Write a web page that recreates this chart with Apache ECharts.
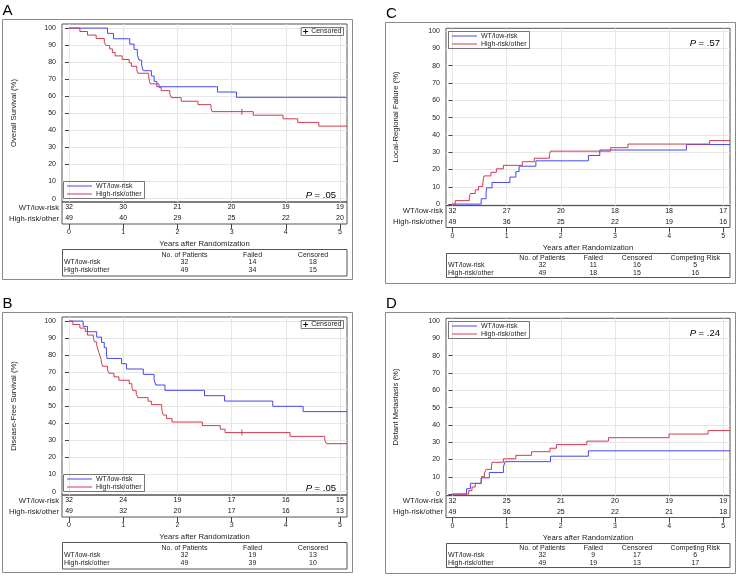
<!DOCTYPE html>
<html>
<head>
<meta charset="utf-8">
<title>Survival panels</title>
<script src="https://cdn.jsdelivr.net/npm/echarts@6.0.0/dist/echarts.min.js"></script>
<style>
  html, body { margin: 0; padding: 0; background: #fff; }
  .panel { position: absolute; width: 369px; }
</style>
</head>
<body>
<div id="panel-a" class="panel" style="left:0;top:0;height:293px"></div>
<div id="panel-b" class="panel" style="left:0;top:293px;height:283px"></div>
<div id="panel-c" class="panel" style="left:369px;top:0;height:290px"></div>
<div id="panel-d" class="panel" style="left:369px;top:290px;height:286px"></div>
<script>
const years = [0, 1, 2, 3, 4, 5];
const yTicks = [0, 10, 20, 30, 40, 50, 60, 70, 80, 90, 100];
const groups = ['WT/low-risk', 'High-risk/other'];
const survHeader = ['No. of Patients', 'Failed', 'Censored'];
const crHeader = ['No. of Patients', 'Failed', 'Censored', 'Competing Risk'];

// A - overall survival, [years, %]
const osWT = [[0,100],[0.71,96.9],[0.82,93.75],[1.12,90.6],[1.2,87.5],[1.26,84.4],[1.29,81.25],[1.34,78.1],[1.37,75],[1.52,71.9],[1.57,68.75],[1.62,65.6],[2.74,62.5],[3.09,59.4],[5.13,59.4]];
const osHR = [[0,100],[0.2,98],[0.34,95.9],[0.5,93.9],[0.65,91.8],[0.68,89.8],[0.75,87.8],[0.8,85.7],[0.85,83.7],[0.98,81.6],[1.11,79.6],[1.15,77.6],[1.25,75.5],[1.27,73.5],[1.47,71.4],[1.48,69.4],[1.5,67.3],[1.66,65.3],[1.7,63.3],[1.86,61.2],[1.89,59.2],[2.07,57.1],[2.38,55.1],[2.62,53.0],[2.64,51.0],[3.4,48.9],[3.95,46.8],[4.22,44.7],[4.61,42.5],[5.13,42.5]];
const osCensor = [[3.19, 51.0]];
const osRiskWT = [32, 30, 21, 20, 19, 19];
const osRiskHR = [49, 40, 29, 25, 22, 20];
const osTable = [[32, 14, 18], [49, 34, 15]];

// B - disease-free survival
const dfsWT = [[0,100],[0.26,96.9],[0.34,93.75],[0.51,90.6],[0.6,87.5],[0.65,84.4],[0.69,81.25],[0.7,78.1],[0.97,75],[1.06,71.9],[1.37,68.75],[1.57,65.6],[1.6,62.5],[1.77,59.4],[2.5,56.25],[2.87,53.1],[3.76,50],[4.32,46.9],[5.13,46.9]];
const dfsHR = [[0,100],[0.07,98],[0.2,95.9],[0.3,93.9],[0.34,91.8],[0.45,89.8],[0.47,87.8],[0.51,85.7],[0.53,83.7],[0.55,81.6],[0.57,79.6],[0.59,77.6],[0.6,75.5],[0.62,73.5],[0.71,71.4],[0.74,69.4],[0.83,67.3],[0.92,65.3],[1.11,63.3],[1.16,61.2],[1.18,59.2],[1.24,57.1],[1.27,55.1],[1.46,53],[1.52,51],[1.71,49],[1.72,46.9],[1.74,44.9],[1.8,42.8],[1.9,40.8],[2.46,38.7],[2.79,36.6],[2.88,34.6],[4.08,32.4],[4.72,30.2],[4.75,28.1],[5.13,28.1]];
const dfsCensor = [[3.19, 34.6]];
const dfsRiskWT = [32, 24, 19, 17, 16, 15];
const dfsRiskHR = [49, 32, 20, 17, 16, 13];
const dfsTable = [[32, 19, 13], [49, 39, 10]];

// C - local-regional failure (cumulative incidence)
const lrfWT = [[0,0],[0.53,3.1],[0.62,6.25],[0.63,9.4],[0.73,12.5],[1.06,15.6],[1.17,18.75],[1.23,21.9],[1.54,25],[2.51,28.1],[2.72,31.25],[4.32,34.4],[5.125,34.4]];
const lrfHR = [[0,0],[0.05,2],[0.31,4.1],[0.33,6.1],[0.42,8.2],[0.48,10.2],[0.56,12.2],[0.57,14.3],[0.58,16.3],[0.71,18.4],[0.81,20.4],[0.94,22.4],[1.29,24.5],[1.51,26.5],[1.79,28.6],[1.81,30.6],[2.92,32.6],[3.24,34.7],[4.75,36.7],[5.125,36.7]];
const lrfRiskWT = [32, 27, 20, 18, 18, 17];
const lrfRiskHR = [49, 36, 25, 22, 19, 16];
const lrfTable = [[32, 11, 16, 5], [49, 18, 15, 16]];

// D - distant metastasis (cumulative incidence)
const dmWT = [[0,0],[0.26,3.1],[0.33,6.25],[0.53,9.4],[0.68,12.5],[0.94,15.6],[0.97,18.75],[1.81,21.9],[2.51,25],[5.125,25]];
const dmHR = [[0,0],[0.3,2],[0.36,4.1],[0.42,6.1],[0.53,8.2],[0.54,10.2],[0.59,12.2],[0.62,14.3],[0.72,16.3],[0.73,18.4],[0.94,20.4],[1.17,22.4],[1.46,24.5],[1.8,26.5],[1.92,28.6],[2.48,30.6],[2.88,32.6],[4.0,34.7],[4.72,36.7],[5.125,36.7]];
const dmRiskWT = [32, 25, 21, 20, 19, 19];
const dmRiskHR = [49, 36, 25, 22, 21, 18];
const dmTable = [[32, 9, 17, 6], [49, 19, 13, 17]];

const font = '"Liberation Sans", Arial, sans-serif';
const blue = '#4646f0';
const red = '#d23a4e';
const ink = '#1c1c1c';
const plusIcon = 'path://M4,0H6V4H10V6H6V10H4V6H0V4H4Z';

// survival panels (A, B) and competing-risk panels (C, D) are laid out a bit differently
const survLayout = {
    letter: [2.5, 3.5], frame: [2.5, 19.5, 350, 260],
    plot: {left: 62, right: 347, top: 24, axis: 202, bottom: 224},
    xMin: -0.13, xMax: 5.13, yMin: -2, yMax: 102.4,
    yNameGap: 44, xNameGap: 16,
    legend: {left: 63.5, top: 181.5}, censorLegend: {right: 25.5, top: 27.5},
    pText: [336, 195.5],
    table: {x: 62.5, y: 249.5, w: 284.5, h: 26.5, cols: [184.5, 252.5, 313], rowY: [254.7, 262.2, 269.8]}
};
const crLayout = {
    letter: [17, 6.5], frame: [16.5, 22.5, 350, 261],
    plot: {left: 77, right: 361, top: 28.3, axis: 205.6, bottom: 227.5},
    xMin: -0.12, xMax: 5.125, yMin: -0.87, yMax: 101.6,
    yNameGap: 46, xNameGap: 16,
    legend: {left: 79.5, top: 31.5},
    pText: [351, 43.7],
    table: {x: 77.5, y: 253.5, w: 283.5, h: 24, cols: [173.3, 224.3, 268, 326.3], rowY: [258, 265.4, 273.2]}
};

function txt(text, x, y, align, size) {
    return {
        type: 'text', x: x, y: y, silent: true,
        style: {text: text, fontSize: size || 7, fontFamily: font, fill: ink, align: align, verticalAlign: 'middle'}
    };
}

function tableGraphic(t, header, rows) {
    let els = [{type: 'rect', shape: {x: t.x, y: t.y, width: t.w, height: t.h}, style: {fill: 'none', stroke: '#555', lineWidth: 1}}];
    header.forEach((h, j) => els.push(txt(h, t.cols[j], t.rowY[0], 'center')));
    rows.forEach((row, i) => {
        els.push(txt(groups[i], t.x + 1.5, t.rowY[i + 1], 'left'));
        row.forEach((v, j) => els.push(txt(String(v), t.cols[j], t.rowY[i + 1], 'center')));
    });
    return els;
}

function riskSeries(counts, group) {
    return {
        name: group + ' at risk', type: 'scatter', xAxisIndex: 1, yAxisIndex: 1,
        symbolSize: 1, itemStyle: {color: 'rgba(0,0,0,0)', opacity: 1}, silent: true,
        data: years.map((t, i) => [t, group, counts[i]]),
        label: {
            show: true, position: 'inside', formatter: p => p.value[2],
            fontSize: 7, fontFamily: font, color: '#111', textBorderWidth: 0, opacity: 1
        }
    };
}

function drawPanel(id, p, lay) {
    let chart = echarts.init(document.getElementById(id), null, {renderer: 'canvas'});
    let pl = lay.plot;
    let width = pl.right - pl.left;

    let series = [
        {name: groups[0], type: 'line', step: 'end', data: p.wt, symbol: 'none', color: blue, lineStyle: {width: 1, color: blue}, z: 3},
        {name: groups[1], type: 'line', step: 'end', data: p.hr, symbol: 'none', color: red, lineStyle: {width: 1, color: red}, z: 4},
        riskSeries(p.riskWT, groups[0]),
        riskSeries(p.riskHR, groups[1])
    ];
    let legends = [{
        data: [
            {name: groups[0], lineStyle: {color: blue, width: 1}},
            {name: groups[1], lineStyle: {color: red, width: 1}}
        ],
        orient: 'vertical', left: lay.legend.left, top: lay.legend.top,
        padding: [1, 3, 1, 3], itemWidth: 25, itemHeight: 7, itemGap: 1,
        borderColor: '#777', borderWidth: 1, selectedMode: false,
        itemStyle: {color: 'rgba(0,0,0,0)', borderColor: 'rgba(0,0,0,0)', borderWidth: 0, opacity: 0},
        textStyle: {fontSize: 7, fontFamily: font, color: ink, padding: [0, 0, 0, -1]}
    }];
    if (p.censor) {
        series.push({name: 'Censored', type: 'scatter', data: p.censor, symbol: 'rect', symbolSize: [1, 6], itemStyle: {color: red, opacity: 1}, z: 5});
        legends.push({
            data: [{name: 'Censored', icon: plusIcon, itemStyle: {color: '#111'}}],
            right: lay.censorLegend.right, top: lay.censorLegend.top,
            padding: [0.5, 2, 0.5, 2], itemWidth: 5, itemHeight: 5, itemGap: 0,
            borderColor: '#777', borderWidth: 1, selectedMode: false,
            textStyle: {fontSize: 7, fontFamily: font, color: ink, padding: [0, 0, 0, -2]}
        });
    }

    let graphic = [
        {type: 'rect', shape: {x: lay.frame[0], y: lay.frame[1], width: lay.frame[2], height: lay.frame[3]}, style: {fill: 'none', stroke: '#8a8a8a', lineWidth: 1}},
        {type: 'text', x: lay.letter[0], y: lay.letter[1], style: {text: p.letter, fontSize: 15, fontFamily: font, fill: '#000'}},
        {type: 'text', x: lay.pText[0], y: lay.pText[1], style: {
            text: '{i|P} = ' + p.pValue, fontSize: 9.5, fontFamily: font, fill: '#000', align: 'right', verticalAlign: 'middle',
            rich: {i: {fontStyle: 'italic', fontSize: 9.5, fontFamily: font, fill: '#000'}}
        }}
    ].concat(tableGraphic(lay.table, p.header, p.table));

    let option = {
        animation: false,
        textStyle: {fontFamily: font},
        grid: [
            {left: pl.left, top: pl.top, width: width, height: pl.axis - pl.top, show: true, borderColor: '#555', borderWidth: 1, outerBoundsMode: 'none'},
            {left: pl.left, top: pl.axis, width: width, height: pl.bottom - pl.axis, show: true, borderColor: '#555', borderWidth: 1, outerBoundsMode: 'none'}
        ],
        xAxis: [
            {
                type: 'value', gridIndex: 0, min: lay.xMin, max: lay.xMax,
                axisLine: {show: false}, axisTick: {show: false, customValues: years},
                axisLabel: {show: false, customValues: years},
                splitLine: {show: true, lineStyle: {color: '#e6e6e6', width: 1}}
            },
            {
                type: 'value', gridIndex: 1, min: lay.xMin, max: lay.xMax,
                name: 'Years after Randomization', nameLocation: 'middle', nameGap: lay.xNameGap,
                nameTextStyle: {fontSize: 7.7, fontFamily: font, color: ink},
                axisLine: {show: false},
                axisTick: {show: true, length: 5, customValues: years, lineStyle: {color: '#444'}},
                axisLabel: {customValues: years, margin: 5, fontSize: 7, fontFamily: font, color: ink},
                splitLine: {show: false}
            }
        ],
        yAxis: [
            {
                type: 'value', gridIndex: 0, min: lay.yMin, max: lay.yMax,
                name: p.yName, nameLocation: 'middle', nameGap: lay.yNameGap,
                nameTextStyle: {fontSize: 7.7, fontFamily: font, color: ink},
                axisLine: {show: false},
                axisTick: {show: true, length: 4, customValues: yTicks, lineStyle: {color: '#444'}},
                axisLabel: {customValues: yTicks, margin: 6, fontSize: 7, fontFamily: font, color: ink},
                splitLine: {show: true, lineStyle: {color: '#e6e6e6', width: 1}}
            },
            {
                type: 'category', gridIndex: 1, data: groups, inverse: true,
                axisLine: {show: false}, axisTick: {show: false},
                axisLabel: {interval: 0, margin: 3, fontSize: 7.7, fontFamily: font, color: ink},
                splitLine: {show: false}
            }
        ],
        legend: legends,
        graphic: graphic,
        series: series
    };
    chart.setOption(option);
    window.addEventListener('resize', chart.resize);
}

drawPanel('panel-a', {letter: 'A', yName: 'Overall Survival (%)', pValue: '.05', wt: osWT, hr: osHR, censor: osCensor,
    riskWT: osRiskWT, riskHR: osRiskHR, header: survHeader, table: osTable}, survLayout);
drawPanel('panel-b', {letter: 'B', yName: 'Disease-Free Survival (%)', pValue: '.05', wt: dfsWT, hr: dfsHR, censor: dfsCensor,
    riskWT: dfsRiskWT, riskHR: dfsRiskHR, header: survHeader, table: dfsTable}, survLayout);
drawPanel('panel-c', {letter: 'C', yName: 'Local-Regional Failure (%)', pValue: '.57', wt: lrfWT, hr: lrfHR,
    riskWT: lrfRiskWT, riskHR: lrfRiskHR, header: crHeader, table: lrfTable}, crLayout);
drawPanel('panel-d', {letter: 'D', yName: 'Distant Metastasis (%)', pValue: '.24', wt: dmWT, hr: dmHR,
    riskWT: dmRiskWT, riskHR: dmRiskHR, header: crHeader, table: dmTable}, crLayout);
</script>
</body>
</html>
